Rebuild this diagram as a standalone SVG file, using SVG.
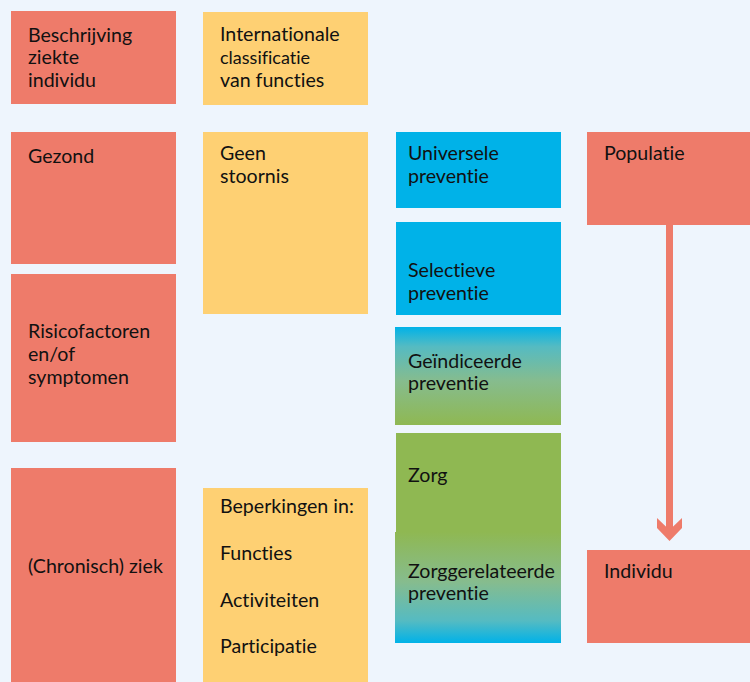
<svg xmlns="http://www.w3.org/2000/svg" width="750" height="682" viewBox="0 0 750 682">
<defs>
<style>
text{font-family:Lato,"Open Sans","Liberation Sans",sans-serif;font-size:19.6px;fill:#111;font-variant-ligatures:none}
.r{fill:#EE7B6A}.y{fill:#FED073}.b{fill:#00B2E8}.g{fill:#8FB852}
</style>
<linearGradient id="gDown" x1="0" y1="0" x2="0" y2="1">
<stop offset="0" stop-color="#00B2E8"/><stop offset="0.2" stop-color="#55BBC2"/><stop offset="0.55" stop-color="#86BC8E"/><stop offset="1" stop-color="#8FB852"/>
</linearGradient>
<linearGradient id="gUp" x1="0" y1="1" x2="0" y2="0">
<stop offset="0" stop-color="#00B2E8"/><stop offset="0.2" stop-color="#55BBC2"/><stop offset="0.55" stop-color="#86BC8E"/><stop offset="1" stop-color="#8FB852"/>
</linearGradient>
</defs>
<rect width="750" height="682" fill="#EEF5FD"/>
<g id="beschrijving"><rect class="r" x="11" y="11" width="165" height="93"/><text x="28" y="42">Beschrijving</text><text x="28" y="64">ziekte</text><text x="28" y="87">individu</text></g>
<g id="icf"><rect class="y" x="203" y="12" width="165" height="93"/><text x="220" y="41">Internationale</text><text x="220" y="64" style="font-size:18px">classificatie</text><text x="220" y="87">van functies</text></g>
<g id="gezond"><rect class="r" x="11" y="132" width="165" height="132"/><text x="28" y="163">Gezond</text></g>
<g id="risico"><rect class="r" x="11" y="274" width="165" height="168"/><text x="28" y="338">Risicofactoren</text><text x="28" y="361">en/of</text><text x="28" y="384">symptomen</text></g>
<g id="ziek"><rect class="r" x="11" y="468" width="165" height="214"/><text x="28" y="573">(Chronisch) ziek</text></g>
<g id="geen-stoornis"><rect class="y" x="203" y="132" width="165" height="182"/><text x="220" y="160">Geen</text><text x="220" y="183">stoornis</text></g>
<g id="beperkingen"><rect class="y" x="203" y="488" width="165" height="194"/><text x="220" y="513">Beperkingen in:</text><text x="220" y="560">Functies</text><text x="220" y="607">Activiteiten</text><text x="220" y="653">Participatie</text></g>
<g id="universele"><rect class="b" x="396" y="132" width="165" height="76"/><text x="408" y="160">Universele</text><text x="408" y="183">preventie</text></g>
<g id="selectieve"><rect class="b" x="396" y="222" width="165" height="93"/><text x="408" y="277">Selectieve</text><text x="408" y="300">preventie</text></g>
<g id="geindiceerde"><rect x="395" y="327" width="166" height="98" fill="url(#gDown)"/><text x="408" y="368">Geïndiceerde</text><text x="408" y="390">preventie</text></g>
<g id="zorg"><rect class="g" x="396" y="433" width="165" height="100"/><text x="408" y="482">Zorg</text></g>
<g id="zorggerelateerde"><rect x="395" y="532" width="166" height="111" fill="url(#gUp)"/><text x="408" y="578">Zorggerelateerde</text><text x="408" y="600">preventie</text></g>
<g id="populatie"><rect class="r" x="587" y="132" width="163" height="93"/><text x="604" y="160">Populatie</text></g>
<g id="individu"><rect class="r" x="587" y="550" width="163" height="93"/><text x="604" y="578">Individu</text></g>
<g id="connectors">
<rect class="r" x="666" y="225" width="7" height="305"/>
<polygon class="r" points="657,518 669.5,530 682,518 682,528 669.5,541 657,528"/>
</g>
</svg>
